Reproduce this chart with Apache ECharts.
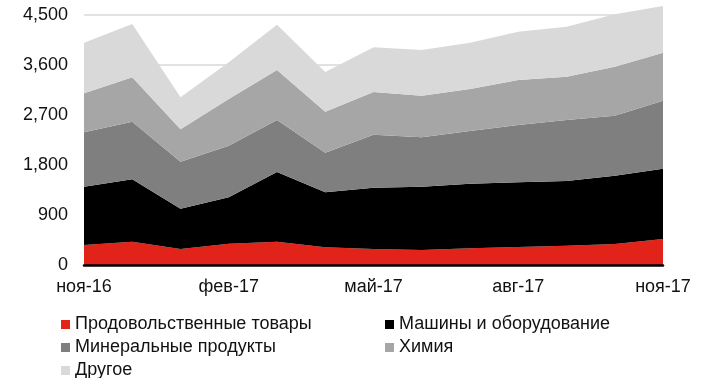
<!DOCTYPE html>
<html>
<head>
<meta charset="utf-8">
<script src="https://cdn.jsdelivr.net/npm/echarts@6/dist/echarts.min.js"></script>
<style>
  html, body { margin: 0; padding: 0; background: #fff; }
  #chart { width: 709px; height: 378px; }
</style>
</head>
<body>
<div id="chart"></div>
<script>
// Monthly values, stacked from bottom to top
const months = ['ноя-16', 'дек-16', 'янв-17', 'фев-17', 'мар-17', 'апр-17', 'май-17',
                'июн-17', 'июл-17', 'авг-17', 'сен-17', 'окт-17', 'ноя-17'];
const food      = [360, 420, 288, 384, 420, 318, 288, 270, 300, 324, 348, 378, 468];
const machinery = [1050, 1122, 726, 834, 1254, 990, 1104, 1140, 1164, 1164, 1164, 1230, 1266];
const minerals  = [978, 1038, 846, 930, 936, 714, 954, 888, 948, 1032, 1098, 1080, 1224];
const chemistry = [702, 798, 582, 840, 900, 738, 768, 750, 756, 810, 780, 882, 864];
const other     = [912, 960, 576, 660, 816, 714, 804, 822, 834, 870, 900, 942, 840];

const seriesDefs = [
  { name: 'Продовольственные товары', data: food,      color: '#e2231a' },
  { name: 'Машины и оборудование',    data: machinery, color: '#000000' },
  { name: 'Минеральные продукты',     data: minerals,  color: '#7f7f7f' },
  { name: 'Химия',                    data: chemistry, color: '#a6a6a6' },
  { name: 'Другое',                   data: other,     color: '#d9d9d9' }
];

const font = 'Liberation Sans, Arial, Helvetica, sans-serif';
const chart = echarts.init(document.getElementById('chart'));

chart.setOption({
  animation: false,
  textStyle: { fontFamily: font },
  grid: { left: 84, right: 46, top: 15, bottom: 113, containLabel: false },
  legend: {
    left: 61, top: 313, width: 660, padding: 0,
    itemWidth: 9, itemHeight: 9, itemGap: 0,
    icon: 'rect',
    selectedMode: false,
    textStyle: { fontSize: 18, color: '#111', width: 310, lineHeight: 23, fontFamily: font },
    data: seriesDefs.map(s => s.name)
  },
  xAxis: {
    type: 'category',
    data: months,
    boundaryGap: false,
    axisLine: { show: true, lineStyle: { color: '#000', width: 2.5 } },
    axisTick: { show: false },
    axisLabel: { interval: 2, fontSize: 18, color: '#111', margin: 13 },
    splitLine: { show: false },
    z: 10
  },
  yAxis: {
    type: 'value',
    min: 0, max: 4500, interval: 900,
    axisLine: { show: false },
    axisTick: { show: false },
    axisLabel: {
      fontSize: 18, color: '#111', margin: 16,
      formatter: v => v.toLocaleString('en-US')
    },
    splitLine: { lineStyle: { color: '#d9d9d9', width: 1.5 } }
  },
  series: seriesDefs.map(s => ({
    name: s.name,
    type: 'line',
    stack: 'total',
    data: s.data,
    symbol: 'none',
    clip: false,
    lineStyle: { width: 0 },
    itemStyle: { color: s.color },
    areaStyle: { color: s.color, opacity: 1 }
  }))
});
</script>
</body>
</html>
